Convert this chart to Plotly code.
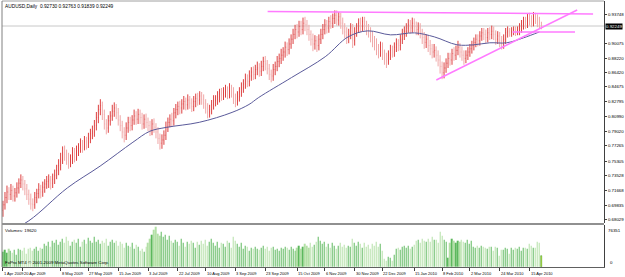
import plotly.graph_objects as go

title_text = "AUDUSD,Daily  0.92730 0.92763 0.91839 0.92249"
first_open = 6920
closes = [
 6990, 7080, 7150, 7120, 7170, 7100, 7140, 7200, 7260, 7300,
 7250, 7190, 7120, 7060, 7000, 6990, 7080, 7130, 7180, 7150,
 7210, 7250, 7280, 7300, 7260, 7310, 7360, 7420, 7480, 7560,
 7640, 7620, 7580, 7520, 7560, 7640, 7600, 7660, 7700, 7740,
 7720, 7780, 7760, 7820, 7880, 7900, 7980, 8080, 8180, 8230,
 8120, 8000, 7950, 8040, 8100, 8160, 8200, 8140, 8050, 7980,
 7900, 7860, 7950, 8020, 7980, 8050, 8100, 8060, 8120, 8080,
 8000, 8060, 8020, 7980, 7920, 8000, 7960, 7900, 7820, 7760,
 7800, 7860, 7960, 8020, 8060, 8040, 8140, 8180, 8220, 8200,
 8250, 8280, 8240, 8300, 8260, 8220, 8280, 8320, 8300, 8350,
 8310, 8260, 8200, 8150, 8180, 8240, 8290, 8300, 8340, 8380,
 8360, 8400, 8420, 8380, 8440, 8400, 8320, 8290, 8340, 8400,
 8450, 8500, 8560, 8530, 8600, 8650, 8620, 8680, 8700, 8660,
 8720, 8780, 8750, 8690, 8620, 8600, 8680, 8720, 8780, 8820,
 8860, 8900, 8960, 8930, 9000, 9060, 9120, 9180, 9150, 9220,
 9180, 9260, 9240, 9180, 9120, 9060, 9000, 9040, 8980, 9060,
 9120, 9180, 9240, 9200, 9280, 9260, 9320, 9360, 9300, 9340,
 9260, 9200, 9150, 9080, 9120, 9200, 9040, 9150, 9200, 9260,
 9220, 9280, 9240, 9180, 9160, 9100, 9040, 9000, 8940, 8900,
 8960, 8880, 8820, 8800, 8860, 8920, 8900, 8960, 9000, 8980,
 9060, 9120, 9160, 9200, 9240, 9200, 9260, 9220, 9180, 9200,
 9140, 9080, 9020, 9060, 8980, 8940, 8900, 8920, 8860, 8800,
 8720, 8640, 8700, 8760, 8820, 8800, 8880, 8860, 8920, 8960,
 8900, 8860, 8820, 8860, 8900, 8940, 8980, 9020, 9060, 9040,
 9100, 9140, 9120, 9080, 9140, 9120, 9160, 9120, 9060, 9100,
 9040, 9000, 9060, 9140, 9160, 9140, 9160, 9180, 9150, 9170,
 9200, 9240, 9280, 9260, 9320, 9300, 9280, 9340, 9320, 9300,
 9273, 9224.9]
highs = [
 7040, 7150, 7230, 7210, 7250, 7230, 7200, 7270, 7320, 7370,
 7350, 7300, 7250, 7180, 7130, 7070, 7150, 7190, 7260, 7240,
 7280, 7310, 7350, 7370, 7350, 7380, 7430, 7490, 7560, 7640,
 7720, 7730, 7680, 7640, 7620, 7710, 7700, 7730, 7760, 7820,
 7800, 7850, 7840, 7890, 7940, 7980, 8050, 8150, 8240, 8310,
 8280, 8180, 8060, 8110, 8160, 8240, 8270, 8250, 8200, 8110,
 8040, 7960, 8020, 8090, 8090, 8110, 8180, 8160, 8190, 8180,
 8140, 8120, 8130, 8080, 8040, 8060, 8070, 8010, 7960, 7880,
 7870, 7920, 8030, 8080, 8120, 8140, 8200, 8250, 8280, 8290,
 8310, 8350, 8330, 8370, 8350, 8320, 8350, 8380, 8390, 8410,
 8400, 8370, 8310, 8260, 8240, 8300, 8360, 8360, 8410, 8440,
 8450, 8460, 8490, 8470, 8510, 8490, 8460, 8380, 8410, 8460,
 8520, 8560, 8630, 8620, 8670, 8710, 8720, 8740, 8780, 8760,
 8790, 8840, 8850, 8800, 8750, 8680, 8750, 8780, 8850, 8880,
 8940, 8960, 9030, 9020, 9070, 9120, 9190, 9240, 9250, 9290,
 9290, 9330, 9340, 9300, 9240, 9170, 9130, 9110, 9100, 9120,
 9190, 9250, 9310, 9300, 9340, 9360, 9380, 9420, 9420, 9400,
 9390, 9330, 9260, 9210, 9190, 9260, 9250, 9210, 9260, 9320,
 9330, 9340, 9340, 9290, 9250, 9210, 9160, 9100, 9070, 9000,
 9030, 9020, 8930, 8890, 8920, 8990, 8980, 9020, 9070, 9060,
 9120, 9190, 9220, 9260, 9310, 9300, 9330, 9320, 9280, 9270,
 9260, 9190, 9150, 9120, 9110, 9050, 9000, 9000, 8970, 8920,
 8860, 8780, 8770, 8820, 8890, 8890, 8940, 8960, 8980, 9040,
 9010, 8970, 8920, 8920, 8960, 9000, 9040, 9080, 9120, 9120,
 9160, 9200, 9200, 9180, 9200, 9210, 9230, 9220, 9170, 9160,
 9150, 9100, 9120, 9200, 9220, 9200, 9210, 9220, 9220, 9220,
 9260, 9300, 9340, 9340, 9380, 9390, 9360, 9400, 9390, 9370,
 9340, 9276.3]
lows = [
 6840, 6930, 7010, 7050, 7050, 7030, 7030, 7080, 7130, 7200,
 7170, 7110, 7050, 6990, 6930, 6910, 6940, 7010, 7070, 7070,
 7090, 7140, 7190, 7200, 7180, 7200, 7250, 7310, 7360, 7420,
 7500, 7540, 7490, 7440, 7460, 7500, 7520, 7540, 7600, 7640,
 7640, 7670, 7680, 7700, 7760, 7810, 7840, 7920, 8010, 8110,
 8050, 7930, 7870, 7890, 7980, 8040, 8090, 8060, 7980, 7910,
 7820, 7770, 7800, 7890, 7910, 7920, 7990, 7990, 8000, 8000,
 7930, 7940, 7950, 7910, 7850, 7860, 7890, 7820, 7750, 7680,
 7690, 7740, 7800, 7900, 7960, 7970, 7980, 8070, 8110, 8120,
 8130, 8180, 8170, 8180, 8190, 8150, 8160, 8210, 8230, 8240,
 8240, 8190, 8130, 8070, 8080, 8120, 8180, 8220, 8240, 8270,
 8290, 8300, 8330, 8310, 8320, 8330, 8250, 8210, 8230, 8280,
 8340, 8390, 8440, 8460, 8470, 8540, 8550, 8560, 8610, 8590,
 8600, 8660, 8670, 8620, 8550, 8520, 8540, 8610, 8660, 8710,
 8750, 8790, 8830, 8850, 8870, 8940, 9000, 9060, 9070, 9090,
 9110, 9120, 9160, 9110, 9040, 8980, 8910, 8930, 8900, 8920,
 9000, 9060, 9120, 9130, 9140, 9190, 9200, 9250, 9230, 9230,
 9190, 9120, 9070, 9000, 9010, 9060, 8950, 8980, 9090, 9140,
 9150, 9160, 9170, 9110, 9080, 9020, 8960, 8920, 8860, 8820,
 8840, 8800, 8740, 8700, 8740, 8800, 8830, 8840, 8900, 8910,
 8920, 9000, 9050, 9090, 9140, 9130, 9140, 9150, 9110, 9110,
 9070, 9000, 8940, 8950, 8900, 8860, 8820, 8830, 8780, 8720,
 8630, 8560, 8570, 8640, 8700, 8730, 8740, 8790, 8800, 8860,
 8830, 8790, 8740, 8760, 8800, 8840, 8880, 8920, 8960, 8970,
 8980, 9040, 9050, 9010, 9020, 9050, 9060, 9050, 8990, 9000,
 8960, 8930, 8940, 9000, 9080, 9090, 9090, 9110, 9100, 9110,
 9110, 9140, 9180, 9190, 9200, 9230, 9210, 9220, 9250, 9210,
 9200, 9183.9]
volumes = [
 28000, 32000, 26000, 33000, 30000, 27000, 31000,
 22000, 34000, 31000, 29000, 35000, 24000, 33000,
 36000, 30000, 34000, 38000, 29000, 36000, 33000,
 42000, 40000, 46000, 38000, 48000, 44000, 50000, 41000,
 47000, 52000, 44000, 55000, 49000, 40000, 46000,
 51000, 45000, 53000, 38000, 47000, 50000, 43000,
 54000, 48000, 44000, 56000, 46000, 51000, 42000,
 49000, 45000, 53000, 40000, 47000, 50000, 44000, 48000, 39000, 46000,
 42000, 36000, 45000, 40000, 38000, 44000, 34000, 41000, 37000, 30000,
 33000, 28000, 38000, 45000, 52000, 60000, 68000, 74000,
 62000, 58000, 66000, 55000, 60000, 50000, 57000, 48000,
 44000, 50000, 46000, 40000, 52000, 45000, 38000, 47000, 42000, 49000, 44000, 36000, 46000, 41000,
 48000, 43000, 50000, 39000, 46000, 52000, 44000, 40000, 47000, 35000, 45000, 42000, 38000, 48000, 44000, 36000, 55000,
 48000, 42000, 38000, 45000, 34000, 40000, 37000, 30000, 36000, 33000,
 38000, 34000, 31000, 36000, 40000, 33000, 37000, 30000, 35000, 38000, 32000, 34000, 29000, 36000, 33000, 37000,
 35000, 31000, 38000, 34000, 30000, 36000, 40000, 33000, 37000, 42000, 39000, 35000, 44000, 38000, 41000, 47000, 56000,
 48000, 43000, 46000, 38000, 42000, 35000, 44000, 40000, 33000, 39000, 45000, 37000, 41000, 36000, 40000, 38000,
 52000, 44000, 40000, 47000, 42000, 36000, 45000, 38000, 41000, 34000, 43000, 39000, 46000, 37000, 42000, 30000,
 14000, 11000, 18000, 17000, 12000, 22000, 34000,
 36000, 31000, 38000, 40000, 35000, 39000, 33000, 37000, 41000,
 48000, 50000, 44000, 52000, 49000, 46000, 53000, 47000, 56000, 50000, 51000, 45000, 65000,
 58000, 50000, 47000, 16000, 45000, 53000, 49000, 44000, 48000, 46000, 51000,
 47000, 45000, 50000, 43000, 48000, 38000, 36000, 40000, 35000, 39000, 37000,
 36000, 33000, 38000, 37000, 30000, 38000, 36000, 20000, 32000, 31000, 35000, 34000,
 24000, 36000, 32000, 35000, 34000, 37000, 30000, 35000, 36000, 33000,
 42000, 40000, 35000, 36000, 47000, 44000, 19620]

# moving average (bar index, price)
ma_idx = [0, 13, 32.4, 48.9, 65.4, 73.9, 82.3, 98.8, 115.3, 123.8, 128.7, 145.2,
          162.2, 173.7, 183.6, 195.1, 207.1, 217.1, 228.5, 237.0, 245.0, 253.5, 262.0, 270.0]
ma_val = [0.6617, 0.6790, 0.7201, 0.7474, 0.7772, 0.7909, 0.7958, 0.8021, 0.8145, 0.8244,
          0.8331, 0.8580, 0.8841, 0.9089, 0.9164, 0.9114, 0.9139, 0.9089, 0.8990, 0.8990,
          0.9015, 0.9015, 0.9077, 0.9151]

# trendlines drawn on the chart (bar index pairs, price pairs)
tl_x = [[133.2, 297.0], [218.1, 289.0], [256.5, 287.9]]
tl_y = [[0.9406, 0.9375], [0.8550, 0.9425], [0.9150, 0.9150]]

price_tick_vals = [0.93748, 0.90075, 0.88220, 0.86420, 0.84675, 0.82795, 0.80990,
                   0.79020, 0.77265, 0.75305, 0.73528, 0.71668, 0.69835, 0.68029]
price_tick_text = ["0.93748", "0.90075", "0.88220", "0.86420", "0.84675", "0.82795",
                   "0.80990", "0.79020", "0.77265", "0.75305", "0.73528", "0.71668", "0.69835", "0.68029"]
last_price = 0.92249
vol_max_label = 76351

date_pos = [0, 10, 29, 43, 58, 73, 88, 102, 117, 132, 148, 162, 177, 191, 207, 221, 235, 250, 265]
date_text = ["1 Apr 2009", "20 Apr 2009", "8 May 2009", "27 May 2009", "15 Jun 2009", "3 Jul 2009",
             "22 Jul 2009", "10 Aug 2009", "3 Sep 2009", "23 Sep 2009", "15 Oct 2009", "6 Nov 2009",
             "30 Nov 2009", "22 Dec 2009", "15 Jan 2010", "8 Feb 2010", "2 Mar 2010", "24 Mar 2010",
             "15 Apr 2010"]

# ---------------------------------------------------------------
n = len(closes)
idx = list(range(n))
opens = [first_open] + closes[:-1]
P = lambda a: [v / 10000.0 for v in a]
o, h, l, c = P(opens), P(highs[:n]), P(lows[:n]), P(closes)
vols = (volumes + [0] * n)[:n]

UP = "#dd4040"
DN = "#f0a8a8"
vcol = ["#5cb85c" if c[i] >= o[i] else "#b3e0a6" for i in range(n)]
vcol[-1] = "#ffff00"
vline = ["rgba(0,0,0,0)"] * n
vline[-1] = "#3a9a3a"

W, H = 625, 277
ML, MR, MT, MB = 2, 18, 1, 10
ph = H - MT - MB
main_bottom_px = 223
vol_top_px = 225
d_main0 = (H - MB - main_bottom_px) / ph
d_vol1 = (H - MB - vol_top_px) / ph
scale = 0.00125
y_top = last_price + (26 - MT) * scale
y_bot = last_price - (main_bottom_px - 26) * scale
vol_px = H - MB - vol_top_px
v_top = vol_max_label * vol_px / (vol_px - 1)

FONT = "Liberation Sans"
FS = 4.4
FD = 4.0

fig = go.Figure()
fig.add_trace(go.Ohlc(x=idx, open=o, high=h, low=l, close=c, xaxis="x", yaxis="y",
                      increasing=dict(line=dict(color=UP, width=1)),
                      decreasing=dict(line=dict(color=DN, width=1)),
                      tickwidth=0.2, hoverinfo="skip", showlegend=False))
fig.add_trace(go.Scatter(x=ma_idx, y=ma_val, mode="lines", xaxis="x", yaxis="y",
                         line=dict(color="#5a5a9a", width=1, shape="spline"),
                         hoverinfo="skip", showlegend=False))
fig.add_trace(go.Bar(x=idx, y=vols, xaxis="x", yaxis="y2", width=0.55,
                     marker=dict(color=vcol, line=dict(color=vline, width=0.6)),
                     hoverinfo="skip", showlegend=False))

shapes = []
for xs, ys in zip(tl_x, tl_y):
    shapes.append(dict(type="line", xref="x", yref="y", x0=xs[0], x1=xs[1], y0=ys[0], y1=ys[1],
                       line=dict(color="#ff7aff", width=1.5)))
shapes.append(dict(type="line", xref="paper", yref="y", x0=0, x1=1, y0=last_price, y1=last_price,
                   line=dict(color="#c8c8c8", width=1), layer="below"))
shapes.append(dict(type="line", xref="paper", yref="paper", x0=0, x1=1, y0=1, y1=1,
                   line=dict(color="#a0a0a0", width=1)))
shapes.append(dict(type="line", xref="paper", yref="paper", x0=0, x1=0, y0=0, y1=1,
                   line=dict(color="#808080", width=1)))
shapes.append(dict(type="line", xref="paper", yref="paper", x0=0, x1=1,
                   y0=(d_main0 + d_vol1) / 2, y1=(d_main0 + d_vol1) / 2,
                   line=dict(color="#909090", width=2)))
fig.update_layout(shapes=shapes)

ann = []
ann.append(dict(text=title_text, xref="paper", yref="paper", x=0, y=1, xanchor="left", yanchor="top",
                xshift=1, yshift=-1, showarrow=False, font=dict(size=4.8, color="black", family=FONT)))
ann.append(dict(text="0.92249", xref="paper", yref="y", x=1, y=last_price, xanchor="left",
                yanchor="middle", xshift=1, showarrow=False, bgcolor="black", borderpad=0,
                font=dict(size=FS, color="white", family=FONT)))
ann.append(dict(text="Volumes: 19620", xref="paper", yref="paper", x=0, y=d_vol1, xanchor="left",
                yanchor="top", xshift=1, yshift=-1, showarrow=False,
                font=dict(size=FS, color="black", family=FONT)))
ann.append(dict(text="FxPro MT4 \u00a9 2001-2009 MetaQuotes Software Corp.", xref="paper", yref="paper",
                x=0, y=0, xanchor="left", yanchor="bottom", xshift=1, yshift=0, showarrow=False,
                font=dict(size=FS, color="black", family=FONT)))
ann.append(dict(text=str(vol_max_label), xref="paper", yref="y2", x=1, y=vol_max_label, xanchor="left",
                yanchor="top", xshift=2, showarrow=False, font=dict(size=FS, color="black", family=FONT)))
ann.append(dict(text="0", xref="paper", yref="y2", x=1, y=0, xanchor="left", yanchor="bottom",
                xshift=4, showarrow=False, font=dict(size=FS, color="black", family=FONT)))
for p, t in zip(date_pos, date_text):
    ann.append(dict(text=t, xref="x", yref="paper", x=p, y=0, xanchor="left", yanchor="top",
                    xshift=-1, yshift=-2, showarrow=False,
                    font=dict(size=FD, color="black", family=FONT)))
fig.update_layout(annotations=ann)

fig.update_layout(
    width=W, height=H, margin=dict(l=ML, r=MR, t=MT, b=MB),
    paper_bgcolor="white", plot_bgcolor="white", bargap=0,
    font=dict(family=FONT, size=FS, color="black"),
    xaxis=dict(domain=[0, 1], anchor="y2", range=[-0.5, 302.5], rangeslider=dict(visible=False),
               showgrid=False, zeroline=False, showline=True, linecolor="#606060", linewidth=1,
               tickvals=date_pos, ticktext=[""] * len(date_pos), ticks="outside", ticklen=3,
               tickcolor="#404040", tickwidth=1, fixedrange=True),
    yaxis=dict(domain=[d_main0, 1], anchor="x", side="right", range=[y_bot, y_top],
               showgrid=False, zeroline=False, showline=True, linecolor="#404040", linewidth=1,
               tickvals=price_tick_vals, ticktext=price_tick_text, ticks="outside", ticklen=2,
               tickcolor="#404040", tickfont=dict(size=FS, family=FONT), fixedrange=True),
    yaxis2=dict(domain=[0, d_vol1], anchor="x", side="right", range=[0, v_top],
                showgrid=False, zeroline=False, showline=True, linecolor="#404040", linewidth=1,
                showticklabels=False, ticks="", fixedrange=True),
)

fig.write_html("out.html")
